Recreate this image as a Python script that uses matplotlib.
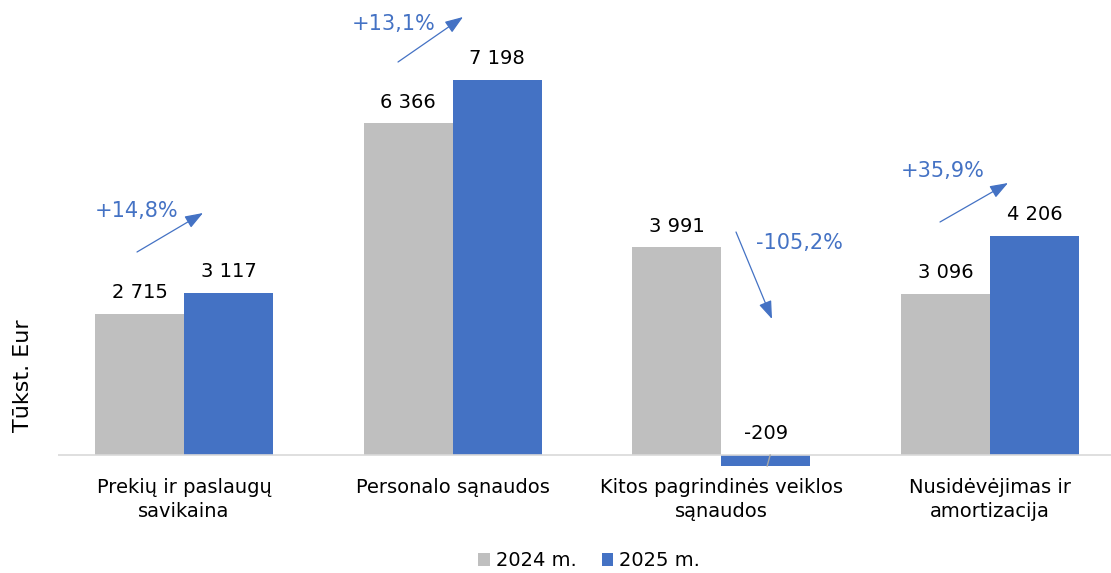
import matplotlib
matplotlib.use("Agg")
import matplotlib.pyplot as plt
from matplotlib.patches import FancyArrowPatch
import numpy as np

categories = ["Prekių ir paslaugų\nsavikaina", "Personalo sąnaudos",
              "Kitos pagrindinės veiklos\nsąnaudos", "Nusidėvėjimas ir\namortizacija"]
series_names = ["2024 m.", "2025 m."]
values_2024 = [2715, 6366, 3991, 3096]
values_2025 = [3117, 7198, -209, 4206]
y_label = "Tūkst. Eur"

GREY = "#BFBFBF"
BLUE = "#4472C4"
W, H = 1111, 573

plt.rcParams['font.family'] = ['DejaVu Sans']
fig = plt.figure(figsize=(W / 100, H / 100), dpi=100)

def fpx(x, y):
    return (x / W, 1 - y / H)

ax_left, ax_right, ax_top, ax_bottom = 58, 1111, 10, 470
ax = fig.add_axes([ax_left / W, 1 - ax_bottom / H, (ax_right - ax_left) / W, (ax_bottom - ax_top) / H])

x = np.arange(len(categories))
bw = 0.331
b1 = ax.bar(x - bw / 2, values_2024, bw, color=GREY, label=series_names[0], zorder=2)
b2 = ax.bar(x + bw / 2, values_2025, bw, color=BLUE, label=series_names[1], zorder=2)

ax.set_xlim(-0.469, 3.45)
ax.set_ylim(-288, 8541)
ax.axhline(0, color="#D9D9D9", lw=1.2, zorder=3)

for s in ax.spines.values():
    s.set_visible(False)
ax.set_yticks([])
ax.set_xticks(x)
ax.set_xticklabels(categories, fontsize=14, linespacing=1.3)
ax.tick_params(axis='x', length=0, pad=6)

def fmt(v):
    return f"{v:,}".replace(",", " ")

for bars in (b1, b2):
    for rect, v in zip(bars, bars.datavalues):
        cx = rect.get_x() + rect.get_width() / 2
        ax.annotate(fmt(int(v)), (cx, max(v, 0)), xytext=(0, 8.3), textcoords="offset points",
                    ha="center", va="bottom", fontsize=14, color="black")
        if v < 0:
            ax.plot([cx + 0.005, cx + 0.016], [v, 0], color="#A6A6A6", lw=1, zorder=4)

# change annotations (arrows + percent text), layout in figure pixels
arrow_layout = [
    # (start px, tip px, text left/center px)
    ((137, 252), (203, 213), (95, 211)),
    ((398, 62), (463, 17), (352, 24)),
    ((736, 232), (772, 319), (756, 243)),
    ((940, 222), (1008, 183), (901, 171)),
]
for (a, b, t), v0, v1 in zip(arrow_layout, values_2024, values_2025):
    pct = (v1 - v0) / v0 * 100
    txt = f"{pct:+.1f}%".replace(".", ",")
    arr = FancyArrowPatch(fpx(*a), fpx(*b), transform=fig.transFigure,
                          arrowstyle="-|>,head_length=1.1,head_width=0.4", mutation_scale=10,
                          color=BLUE, lw=0.9, shrinkA=0, shrinkB=0)
    fig.patches.append(arr)
    fig.text(*fpx(*t), txt, ha="left", va="center", fontsize=15, color=BLUE)

fig.text(*fpx(23, 376), y_label, rotation=90, ha="center", va="center", fontsize=16)

fig.legend(handles=[b1, b2], labels=series_names, loc="center", bbox_to_anchor=fpx(589, 561),
           ncol=2, frameon=False, fontsize=14, handlelength=0.6, handleheight=0.6,
           handletextpad=0.3, columnspacing=1.3)

fig.savefig("out.png", dpi=100)
